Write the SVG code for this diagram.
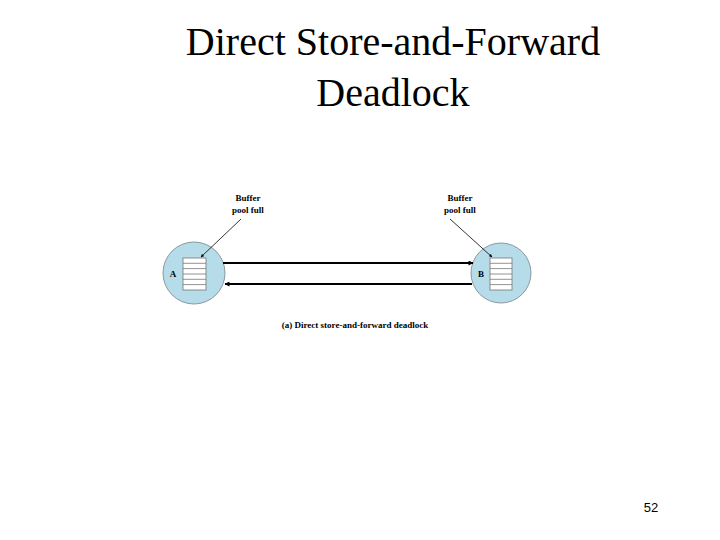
<svg xmlns="http://www.w3.org/2000/svg" width="720" height="540" viewBox="0 0 720 540">
<defs>
<style>
.t{font-family:"Liberation Serif",serif;fill:#000}
.s{font-family:"Liberation Serif",serif;font-weight:bold;font-size:9px;text-anchor:middle}
.node{fill:#b5dce8;stroke:#8a9aa0;stroke-width:1}
.buf{fill:#fff;stroke:#777;stroke-width:0.8}
.c{stroke:#000;fill:none}
</style>
<marker id="ah" viewBox="0 0 10 10" refX="9" refY="5" markerWidth="6" markerHeight="5" orient="auto" markerUnits="userSpaceOnUse"><path d="M0,0L10,5L0,10z"/></marker>
<marker id="ahs" viewBox="0 0 10 10" refX="9" refY="5" markerWidth="5" markerHeight="4" orient="auto"><path d="M0,0L10,5L0,10z"/></marker>
</defs>
<rect width="720" height="540" fill="#fff"/>
<text class="t" x="393" y="55" font-size="40" text-anchor="middle">Direct Store-and-Forward</text>
<text class="t" x="393" y="106" font-size="40" text-anchor="middle">Deadlock</text>
<g id="nodeA">
<circle class="node" cx="194" cy="273" r="31"/>
<rect class="buf" x="183" y="258" width="23" height="32"/>
<path d="M183,263.3h23M183,268.6h23M183,274h23M183,279.3h23M183,284.6h23" stroke="#777" stroke-width="0.8"/>
<text class="s" x="173" y="277" font-size="12">A</text>
</g>
<g id="nodeB">
<circle class="node" cx="501" cy="273" r="30"/>
<rect class="buf" x="490" y="258" width="22" height="32"/>
<path d="M490,263.3h22M490,268.6h22M490,274h22M490,279.3h22M490,284.6h22" stroke="#777" stroke-width="0.8"/>
<text class="s" x="481" y="277" font-size="12">B</text>
</g>
<g id="labels">
<text class="s" x="248" y="201">Buffer</text>
<text class="s" x="248" y="213">pool full</text>
<text class="s" x="460" y="201">Buffer</text>
<text class="s" x="460" y="213">pool full</text>
<text class="s" x="355" y="328">(a) Direct store-and-forward deadlock</text>
</g>
<g id="connectors">
<line class="c" x1="223" y1="263" x2="473" y2="263" stroke-width="2" marker-end="url(#ah)"/>
<line class="c" x1="472" y1="284" x2="225" y2="284" stroke-width="2" marker-end="url(#ah)"/>
<line class="c" x1="241" y1="219" x2="201" y2="257" stroke-width="0.8" marker-end="url(#ahs)"/>
<line class="c" x1="450" y1="219" x2="492" y2="257" stroke-width="0.8" marker-end="url(#ahs)"/>
</g>
<text x="651" y="512" font-family="Liberation Sans,sans-serif" font-size="13" text-anchor="middle">52</text>
</svg>
